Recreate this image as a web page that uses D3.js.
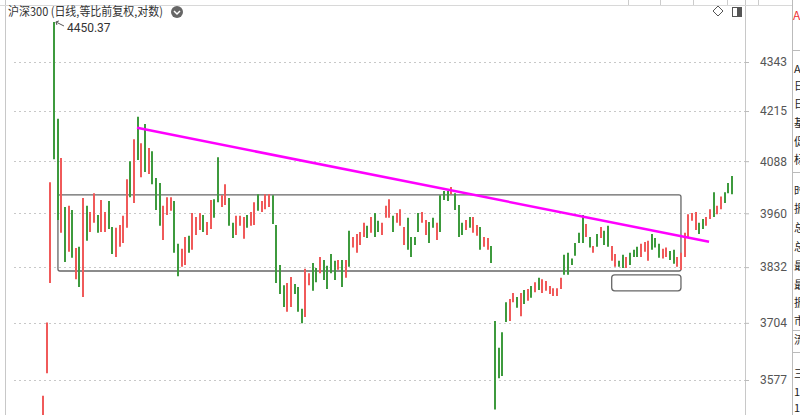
<!DOCTYPE html>
<html><head><meta charset="utf-8">
<script src="https://cdn.jsdelivr.net/npm/d3@7"></script>
<style>body{margin:0;background:#fff}svg{display:block;font-family:"Noto Sans CJK SC","Noto Sans",sans-serif}</style>
</head><body><svg id="c" width="800" height="415"></svg>
<script>
const highs=[3543,3705,4036,4450.37,4195,4096,3975,3978,3968,3877,3880,3997,3978,3963,4009,3956,3992,3963,3990,3927,3925,3932,3954,4043,4088,4143,4200,4133,4182,4121,4113,4046,4034,3978,3999,3999,3990,3887,3875,3903,3906,3961,3951,3961,3956,3939,3992,3994,4098,4004,4031,3997,3937,3954,3954,3951,3956,3963,3987,4006,3990,4006,4006,4004,3932,3837,3790,3795,3809,3793,3786,3736,3828,3818,3842,3830,3856,3849,3835,3863,3847,3849,3849,3849,3918,3903,3910,3915,3937,3930,3951,3961,3942,3937,3978,3994,3954,3961,3970,3927,3949,3903,3903,3961,3963,3944,3939,3949,3937,4004,4014,4014,4024,4009,3980,3937,3944,3951,3951,3932,3927,3903,3901,3882,3708,3648,3683,3751,3758,3772,3763,3772,3779,3781,3788,3797,3807,3804,3800,3788,3783,3783,3807,3861,3866,3852,3889,3913,3956,3934,3903,3882,3910,3927,3918,3930,3882,3863,3847,3861,3856,3866,3873,3880,3887,3891,3894,3910,3901,3887,3875,3878,3870,3873,3856,3866,3913,3958,3961,3963,3937,3946,3951,3970,4011,3978,4001,4011,4034,4051];
const lows=[3480,3592,3795,4093,3944,3913,3844,3868,3854,3804,3786,3763,3894,3915,3937,3913,3915,3915,3922,3863,3856,3880,3889,3925,3999,3985,4091,4048,4061,4056,4031,3968,3930,3896,3956,3966,3866,3811,3833,3837,3866,3873,3908,3920,3915,3908,3922,3949,3987,3975,3980,3930,3901,3908,3930,3899,3925,3930,3932,3966,3963,3970,3975,3934,3795,3770,3740,3729,3740,3770,3729,3703,3717,3790,3777,3797,3818,3802,3781,3818,3802,3826,3786,3807,3833,3878,3866,3884,3903,3901,3913,3903,3915,3908,3949,3949,3915,3937,3930,3884,3873,3856,3884,3915,3937,3908,3889,3925,3896,3915,3992,3990,4006,3968,3903,3908,3920,3925,3913,3906,3873,3880,3873,3842,3513,3581,3586,3706,3708,3751,3738,3719,3747,3754,3761,3774,3779,3772,3777,3770,3765,3765,3781,3814,3814,3837,3859,3889,3889,3903,3878,3866,3880,3901,3884,3880,3847,3833,3833,3830,3830,3837,3856,3856,3856,3868,3847,3873,3878,3854,3852,3856,3849,3840,3833,3826,3856,3903,3942,3920,3910,3922,3930,3946,3951,3958,3970,3985,4009,4006];
const dirs="rrrggrgrgrgrgrrgrrggrrrrgrgrgrgggrrrggrrgrrrgrrggrrggrrrgrrgrrrggggrrgggrrggrggggrgrgrrrrgrggrrrgrrrggggrrggrgggrgggrgrrgrrgggggrrgrgrgrgrrrrrrggggggrgrgrggrrggrgggrrrgggrrggrrrrrrggrrgrrgggrrrggrrrrrgrgrr".split("");
const yTicks=[4343,4215,4088,3960,3832,3704,3577];
const peakLabel="4450.37";
const boxBig={i0:4.1,i1:175,top:4005,bottom:3823};
const boxSmall={i0:156,i1:175,top:3814,bottom:3777};
const trend={i0:25.8,v0:4172,i1:182.7,v1:3892};
const panelChars=[["A",73],["日",90],["日",108],["基",127],["促",146],["标",164],["时",195],["振",213],["总",232],["总",251],["最",270],["最",289],["振",307],["市",325],["流",344],["三",378],["1",396],["1",412]];

const svg=d3.select("#c");
const n=highs.length;
const x=d3.scaleLinear().domain([0,n-1]).range([43,732]);
const y=d3.scaleLog().domain([3577,4343]).range([380,62]);
const dcol=dirs.slice(0,n);

svg.append("line").attr("x1",5.5).attr("x2",5.5).attr("y1",0).attr("y2",415).attr("stroke","#c8c8c8");
svg.append("line").attr("x1",745.5).attr("x2",745.5).attr("y1",0).attr("y2",415).attr("stroke","#c8c8c8");
svg.append("line").attr("x1",0).attr("x2",792).attr("y1",5.5).attr("y2",5.5).attr("stroke","#d8d8d8");
[628,660,693,727,758].forEach(v=>svg.append("line").attr("x1",v+.5).attr("x2",v+.5).attr("y1",0).attr("y2",5).attr("stroke","#ccc"));
svg.append("line").attr("x1",792.5).attr("x2",792.5).attr("y1",0).attr("y2",415).attr("stroke","#bbb");
[50,172,330,352].forEach(v=>svg.append("line").attr("x1",792).attr("x2",800).attr("y1",v+.5).attr("y2",v+.5).attr("stroke","#bbb"));

const g=svg.append("g");
g.selectAll(".gl").data(yTicks).join("line").attr("x1",14).attr("x2",745).attr("y1",d=>Math.round(y(d))+.5).attr("y2",d=>Math.round(y(d))+.5)
 .attr("stroke","#c8c8c8").attr("stroke-dasharray","2,3");
const ax=d3.axisRight(y).tickValues(yTicks).tickSize(4).tickFormat(d3.format("d"));
const axg=svg.append("g").attr("transform","translate(745,0)").call(ax);
axg.select(".domain").remove();
axg.selectAll("line").attr("stroke","#bbb");
axg.selectAll("text").attr("x",42).attr("text-anchor","end").attr("fill","#555").attr("font-size",12).attr("font-family","Roboto,'Noto Sans',sans-serif");

function box(b,r){svg.append("rect").attr("x",x(b.i0)).attr("y",y(b.top)).attr("width",x(b.i1)-x(b.i0)).attr("height",y(b.bottom)-y(b.top))
 .attr("rx",r).attr("fill","none").attr("stroke","#666").attr("stroke-width",1.3);}
box(boxBig,2);box(boxSmall,3);

svg.append("g").selectAll("line").data(d3.range(n)).join("line")
 .attr("x1",i=>Math.round(x(i))).attr("x2",i=>Math.round(x(i)))
 .attr("y1",i=>y(highs[i])).attr("y2",i=>y(lows[i]))
 .attr("stroke",i=>dcol[i]==="r"?"#f05a5a":"#3d9a3d").attr("stroke-width",2);

svg.append("line").attr("x1",x(trend.i0)).attr("y1",y(trend.v0)).attr("x2",x(trend.i1)).attr("y2",y(trend.v1))
 .attr("stroke","#ff00ff").attr("stroke-width",2.5);

const pi=highs.indexOf(d3.max(highs));
const px=x(pi),py=y(highs[pi]);
svg.append("path").attr("d",`M${px+2},${py}L${px+10},${py+4}`).attr("stroke","#555").attr("fill","none");
svg.append("path").attr("d",`M${px+2},${py}l3,-1M${px+2},${py}l1,3`).attr("stroke","#555").attr("fill","none");
svg.append("text").attr("x",px+13).attr("y",py+10).attr("font-size",12).attr("fill","#333").attr("font-family","Roboto,'Noto Sans',sans-serif").text(peakLabel);

svg.append("text").attr("x",8).attr("y",16).attr("font-size",12).attr("fill","#333").attr("textLength",155).attr("lengthAdjust","spacingAndGlyphs").text("沪深300 (日线,等比前复权,对数)");
svg.append("circle").attr("cx",177).attr("cy",12).attr("r",6).attr("fill","#666");
svg.append("path").attr("d","M174,11l3,3l3,-3").attr("stroke","#fff").attr("stroke-width",1.5).attr("fill","none");
svg.append("path").attr("d","M718,6l5,5l-5,5l-5,-5z").attr("fill","none").attr("stroke","#555");
svg.append("rect").attr("x",732.5).attr("y",7.5).attr("width",9).attr("height",9).attr("fill","none").attr("stroke","#555");
svg.append("rect").attr("x",737).attr("y",8).attr("width",4).attr("height",8).attr("fill","#555");
svg.append("text").attr("x",793).attr("y",20).attr("font-size",12).attr("fill","#e33").text("A");
svg.selectAll(".pc").data(panelChars).join("text").attr("x",794).attr("y",d=>d[1]).attr("font-size",11).attr("fill","#222").text(d=>d[0]);
</script></body></html>
